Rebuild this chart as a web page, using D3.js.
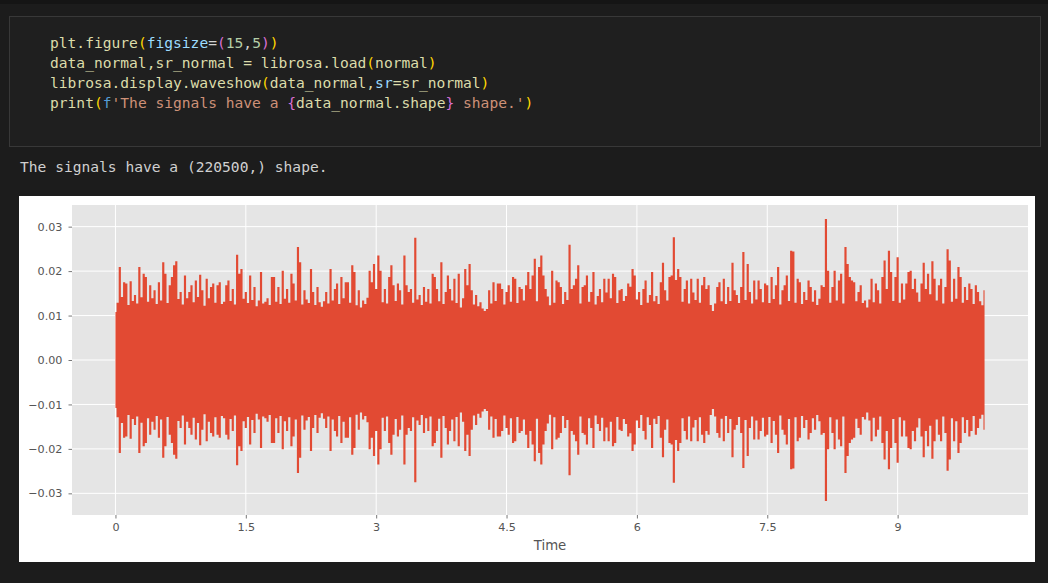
<!DOCTYPE html>
<html>
<head>
<meta charset="utf-8">
<script src="https://cdn.jsdelivr.net/npm/d3@7"></script>
<style>
  html, body { margin: 0; padding: 0; background: #1c1c1c; }
  svg { display: block; }
</style>
</head>
<body>
<svg id="page" width="1048" height="583"></svg>
<script>
// ---- waveform data: envelope amplitude sampled every 0.025 s over 10 s (220500 samples @ 22050 Hz)
const hopSeconds = 0.025;
const amplitude = [
  0.0108,0.0129,0.0209,0.0142,0.0175,0.0172,0.0124,0.0177,0.0133,0.0146,
  0.0127,0.0209,0.0141,0.0194,0.0187,0.0131,0.0168,0.0139,0.0157,0.0126,
  0.0175,0.0134,0.0220,0.0194,0.0128,0.0168,0.0187,0.0213,0.0222,0.0137,
  0.0153,0.0125,0.0190,0.0139,0.0153,0.0168,0.0130,0.0179,0.0142,0.0192,
  0.0157,0.0122,0.0183,0.0139,0.0164,0.0172,0.0129,0.0168,0.0175,0.0126,
  0.0131,0.0168,0.0179,0.0133,0.0160,0.0125,0.0237,0.0194,0.0205,0.0138,
  0.0153,0.0128,0.0190,0.0135,0.0164,0.0121,0.0134,0.0198,0.0127,0.0131,
  0.0139,0.0124,0.0187,0.0187,0.0131,0.0164,0.0126,0.0201,0.0138,0.0160,
  0.0129,0.0194,0.0172,0.0134,0.0254,0.0220,0.0125,0.0157,0.0136,0.0128,
  0.0205,0.0153,0.0124,0.0164,0.0130,0.0120,0.0132,0.0153,0.0127,0.0205,
  0.0134,0.0160,0.0172,0.0126,0.0187,0.0139,0.0175,0.0175,0.0129,0.0213,
  0.0198,0.0123,0.0157,0.0118,0.0134,0.0126,0.0140,0.0201,0.0175,0.0216,
  0.0160,0.0235,0.0201,0.0130,0.0160,0.0127,0.0187,0.0213,0.0168,0.0133,
  0.0172,0.0157,0.0125,0.0235,0.0168,0.0153,0.0160,0.0129,0.0275,0.0136,
  0.0146,0.0124,0.0164,0.0131,0.0160,0.0127,0.0194,0.0187,0.0160,0.0132,
  0.0220,0.0126,0.0153,0.0190,0.0160,0.0134,0.0183,0.0128,0.0194,0.0118,
  0.0139,0.0205,0.0168,0.0216,0.0157,0.0125,0.0146,0.0121,0.0130,0.0116,
  0.0110,0.0115,0.0157,0.0127,0.0175,0.0133,0.0172,0.0172,0.0160,0.0125,
  0.0153,0.0168,0.0131,0.0187,0.0183,0.0128,0.0164,0.0160,0.0134,0.0168,
  0.0198,0.0160,0.0190,0.0228,0.0132,0.0209,0.0235,0.0190,0.0160,0.0143,
  0.0123,0.0201,0.0129,0.0179,0.0175,0.0164,0.0126,0.0153,0.0135,0.0259,
  0.0160,0.0168,0.0183,0.0213,0.0127,0.0164,0.0168,0.0190,0.0131,0.0153,
  0.0198,0.0125,0.0144,0.0160,0.0130,0.0183,0.0152,0.0183,0.0139,0.0194,
  0.0187,0.0128,0.0157,0.0160,0.0133,0.0144,0.0172,0.0165,0.0205,0.0190,
  0.0136,0.0153,0.0124,0.0160,0.0179,0.0129,0.0146,0.0198,0.0132,0.0144,
  0.0126,0.0175,0.0219,0.0157,0.0134,0.0187,0.0190,0.0276,0.0180,0.0205,
  0.0187,0.0131,0.0160,0.0179,0.0127,0.0183,0.0152,0.0135,0.0183,0.0129,
  0.0168,0.0187,0.0160,0.0168,0.0124,0.0110,0.0127,0.0164,0.0175,0.0132,
  0.0183,0.0126,0.0164,0.0133,0.0219,0.0157,0.0146,0.0128,0.0164,0.0243,
  0.0135,0.0216,0.0153,0.0127,0.0179,0.0136,0.0179,0.0160,0.0130,0.0172,
  0.0168,0.0128,0.0187,0.0137,0.0168,0.0209,0.0125,0.0157,0.0168,0.0190,
  0.0133,0.0246,0.0244,0.0129,0.0183,0.0175,0.0126,0.0153,0.0135,0.0179,
  0.0164,0.0131,0.0157,0.0124,0.0138,0.0168,0.0164,0.0317,0.0201,0.0129,
  0.0164,0.0201,0.0134,0.0179,0.0194,0.0127,0.0254,0.0216,0.0187,0.0179,
  0.0175,0.0132,0.0153,0.0168,0.0128,0.0134,0.0118,0.0136,0.0183,0.0130,
  0.0172,0.0157,0.0127,0.0187,0.0224,0.0160,0.0246,0.0198,0.0133,0.0187,
  0.0231,0.0129,0.0172,0.0136,0.0172,0.0198,0.0201,0.0160,0.0183,0.0152,
  0.0131,0.0172,0.0219,0.0160,0.0194,0.0148,0.0222,0.0183,0.0134,0.0168,
  0.0183,0.0127,0.0164,0.0249,0.0224,0.0131,0.0183,0.0138,0.0209,0.0187,
  0.0129,0.0164,0.0135,0.0172,0.0160,0.0126,0.0168,0.0153,0.0132,0.0123,
  0.0157
];
const times = amplitude.map((_, i) => i * hopSeconds);

const xTickValues = [0, 1.5, 3, 4.5, 6, 7.5, 9];
const xTickLabels = ["0", "1.5", "3", "4.5", "6", "7.5", "9"];
const yTickValues = [-0.03, -0.02, -0.01, 0, 0.01, 0.02, 0.03];
const yTickLabels = ["\u22120.03", "\u22120.02", "\u22120.01", "0.00", "0.01", "0.02", "0.03"];
const xAxisTitle = "Time";

// ---- notebook cell text
const codeLines = [
  [["plt.figure", "#dcdcaa"], ["(", "#ffd700"], ["figsize", "#9cdcfe"], ["=", "#d4d4d4"], ["(", "#da70d6"],
   ["15", "#b5cea8"], [",", "#d4d4d4"], ["5", "#b5cea8"], [")", "#da70d6"], [")", "#ffd700"]],
  [["data_normal,sr_normal = librosa.load", "#dcdcaa"], ["(", "#ffd700"], ["normal", "#dcdcaa"], [")", "#ffd700"]],
  [["librosa.display.waveshow", "#dcdcaa"], ["(", "#ffd700"], ["data_normal,", "#dcdcaa"], ["sr", "#9cdcfe"],
   ["=sr_normal", "#dcdcaa"], [")", "#ffd700"]],
  [["print", "#dcdcaa"], ["(", "#ffd700"], ["f", "#569cd6"], ["'The signals have a ", "#ce9178"], ["{", "#da70d6"],
   ["data_normal.shape", "#dcdcaa"], ["}", "#da70d6"], [" shape.'", "#ce9178"], [")", "#ffd700"]]
];
const outputText = "The signals have a (220500,) shape.";

const svg = d3.select("#page");
const mono = "'DejaVu Sans Mono', 'Liberation Mono', monospace";

svg.append("rect").attr("width", 1048).attr("height", 583).attr("fill", "#1c1c1c");
svg.append("rect").attr("width", 1048).attr("height", 4).attr("fill", "#151515");

// code cell
svg.append("rect")
  .attr("x", 9.5).attr("y", 16.5).attr("width", 1031).attr("height", 130)
  .attr("fill", "#1f1f1f").attr("stroke", "#383838");

const code = svg.append("g").attr("font-family", mono).attr("font-size", 14.6);
codeLines.forEach((tokens, li) => {
  const t = code.append("text")
    .attr("x", 50).attr("y", 47.5 + li * 20.3)
    .style("white-space", "pre");
  tokens.forEach(([txt, col]) => t.append("tspan").attr("fill", col).text(txt));
});

svg.append("text")
  .attr("x", 20).attr("y", 171.5)
  .attr("font-family", mono).attr("font-size", 14.6)
  .attr("fill", "#d0d0d0").style("white-space", "pre")
  .text(outputText);

// ---- figure
svg.append("rect").attr("x", 19).attr("y", 196).attr("width", 1016).attr("height", 366).attr("fill", "#ffffff");

const plot = { left: 72, right: 1028, top: 205, bottom: 515 };
const tMax = d3.max(times);
const aMax = d3.max(amplitude);

const x = d3.scaleLinear()
  .domain([-0.05 * tMax, tMax * 1.05])
  .range([plot.left, plot.right]);
const y = d3.scaleLinear()
  .domain([-aMax * 1.1, aMax * 1.1])
  .range([plot.bottom, plot.top]);

const chart = svg.append("g").attr("font-family", "'DejaVu Sans', sans-serif");

chart.append("rect")
  .attr("x", plot.left).attr("y", plot.top)
  .attr("width", plot.right - plot.left).attr("height", plot.bottom - plot.top)
  .attr("fill", "#e5e5e5");

// grid
chart.append("g").selectAll("line").data(xTickValues).join("line")
  .attr("x1", d => x(d)).attr("x2", d => x(d))
  .attr("y1", plot.top).attr("y2", plot.bottom)
  .attr("stroke", "#ffffff").attr("stroke-width", 1);
chart.append("g").selectAll("line").data(yTickValues).join("line")
  .attr("x1", plot.left).attr("x2", plot.right)
  .attr("y1", d => y(d)).attr("y2", d => y(d))
  .attr("stroke", "#ffffff").attr("stroke-width", 1);

// waveform envelope (mirrored around zero)
const area = d3.area()
  .curve(d3.curveStep)
  .x((d, i) => x(times[i]))
  .y0(d => y(-d))
  .y1(d => y(d));
chart.append("path")
  .datum(amplitude)
  .attr("d", area)
  .attr("fill", "#E24A33");

// axes
const xAxis = d3.axisBottom(x)
  .tickValues(xTickValues)
  .tickFormat((d, i) => xTickLabels[i])
  .tickSize(3.5).tickPadding(5);
const gx = chart.append("g").attr("transform", `translate(0,${plot.bottom})`).call(xAxis);

const yAxis = d3.axisLeft(y)
  .tickValues(yTickValues)
  .tickFormat((d, i) => yTickLabels[i])
  .tickSize(3.5).tickPadding(6);
const gy = chart.append("g").attr("transform", `translate(${plot.left},0)`).call(yAxis);

[gx, gy].forEach(g => {
  g.select(".domain").remove();
  g.selectAll(".tick line").attr("stroke", "#555555").attr("stroke-width", 0.8);
  g.selectAll(".tick text")
    .attr("fill", "#555555")
    .attr("font-family", "'DejaVu Sans', sans-serif")
    .attr("font-size", 11.2);
});

chart.append("text")
  .attr("x", (plot.left + plot.right) / 2).attr("y", 550)
  .attr("text-anchor", "middle")
  .attr("font-size", 13.3).attr("fill", "#555555")
  .text(xAxisTitle);
</script>
</body>
</html>
